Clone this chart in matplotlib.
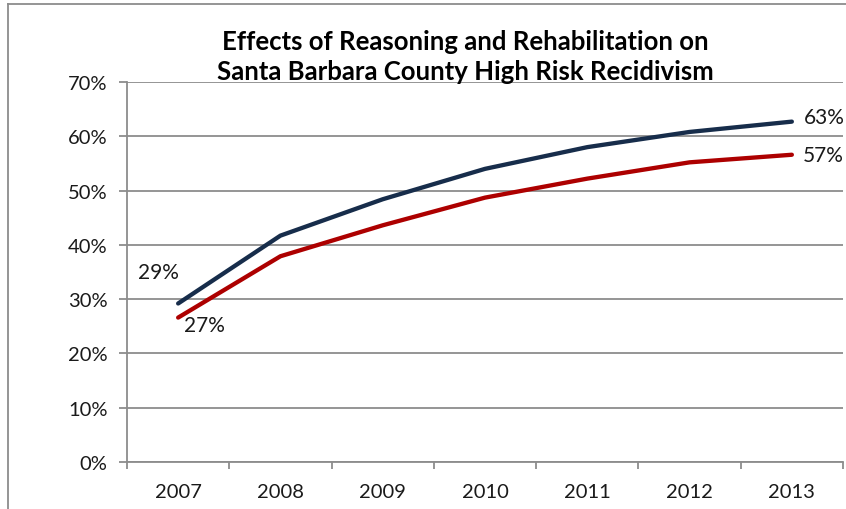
import matplotlib
matplotlib.use("Agg")
import matplotlib.pyplot as plt
from matplotlib.lines import Line2D
from matplotlib.ticker import FuncFormatter, FixedLocator

years = ["2007", "2008", "2009", "2010", "2011", "2012", "2013"]
series_a = [29.2, 41.7, 48.4, 54.0, 58.0, 60.8, 62.7]   # navy line
series_b = [26.6, 37.9, 43.6, 48.7, 52.2, 55.2, 56.6]   # red line
yticks = [0, 10, 20, 30, 40, 50, 60, 70]
title = "Effects of Reasoning and Rehabilitation on\nSanta Barbara County High Risk Recidivism"

W, H = 846, 510
fig = plt.figure(figsize=(W / 100, H / 100), dpi=100)
plt.rcParams['font.family'] = ['Lato', 'DejaVu Sans']

L, R, T, B = 127, 843, 83, 463
ax = fig.add_axes([L / W, 1 - B / H, (R - L) / W, (B - T) / H])

navy = "#172D4B"
red = "#AD0000"
grid_c = "#8C8C8C"

x = list(range(len(years)))
ax.plot(x, series_a, color=navy, lw=3.1, solid_capstyle="round", zorder=3)
ax.plot(x, series_b, color=red, lw=3.1, solid_capstyle="round", zorder=3)

ax.set_xlim(-0.5, len(years) - 0.5)
ax.set_ylim(0, 70)

ax.yaxis.set_major_locator(FixedLocator(yticks))
ax.yaxis.set_major_formatter(FuncFormatter(lambda v, p: f"{int(v)}%"))
ax.yaxis.grid(True, color=grid_c, lw=1.3)
ax.set_axisbelow(True)

ax.xaxis.set_major_locator(FixedLocator([i - 0.5 for i in range(len(years) + 1)]))
ax.xaxis.set_major_formatter(FuncFormatter(lambda v, p: ""))
ax.xaxis.set_minor_locator(FixedLocator(x))
ax.set_xticklabels(years, minor=True)
ax.tick_params(axis="x", which="minor", length=0, pad=15, labelsize=14.5, labelcolor="#1a1a1a")
ax.tick_params(axis="x", which="major", length=5, width=1.3, color=grid_c)
ax.tick_params(axis="y", length=6, width=1.3, color=grid_c, pad=8, labelsize=14.5, labelcolor="#1a1a1a")

for s in ["top", "right"]:
    ax.spines[s].set_visible(False)
for s in ["left", "bottom"]:
    ax.spines[s].set_color(grid_c)
    ax.spines[s].set_linewidth(1.3)

# data labels
lab_kw = dict(fontsize=15, color="#1a1a1a", zorder=4)
ax.annotate(f"{round(series_a[0])}%", (x[0], series_a[0]), xytext=(-14, 23),
            textcoords="offset points", ha="center", va="center", **lab_kw)
ax.annotate(f"{round(series_b[0])}%", (x[0], series_b[0]), xytext=(19, -5),
            textcoords="offset points", ha="center", va="center", **lab_kw)
ax.annotate(f"{round(series_a[-1])}%", (x[-1], series_a[-1]), xytext=(9, 3),
            textcoords="offset points", ha="left", va="center", **lab_kw)
ax.annotate(f"{round(series_b[-1])}%", (x[-1], series_b[-1]), xytext=(8, 0),
            textcoords="offset points", ha="left", va="center", **lab_kw)

fig.text(465 / W, 1 - 57 / H, title, ha="center", va="center", fontsize=18.5,
         fontweight="bold", linespacing=1.3, color="#000000")

# chart frame
fig.add_artist(Line2D([8 / W, 8 / W], [0, 1 - 5 / H], color=grid_c, lw=1.3, transform=fig.transFigure))
fig.add_artist(Line2D([8 / W, 1], [1 - 5 / H, 1 - 5 / H], color=grid_c, lw=1.3, transform=fig.transFigure))

fig.savefig("out.png", dpi=100)
